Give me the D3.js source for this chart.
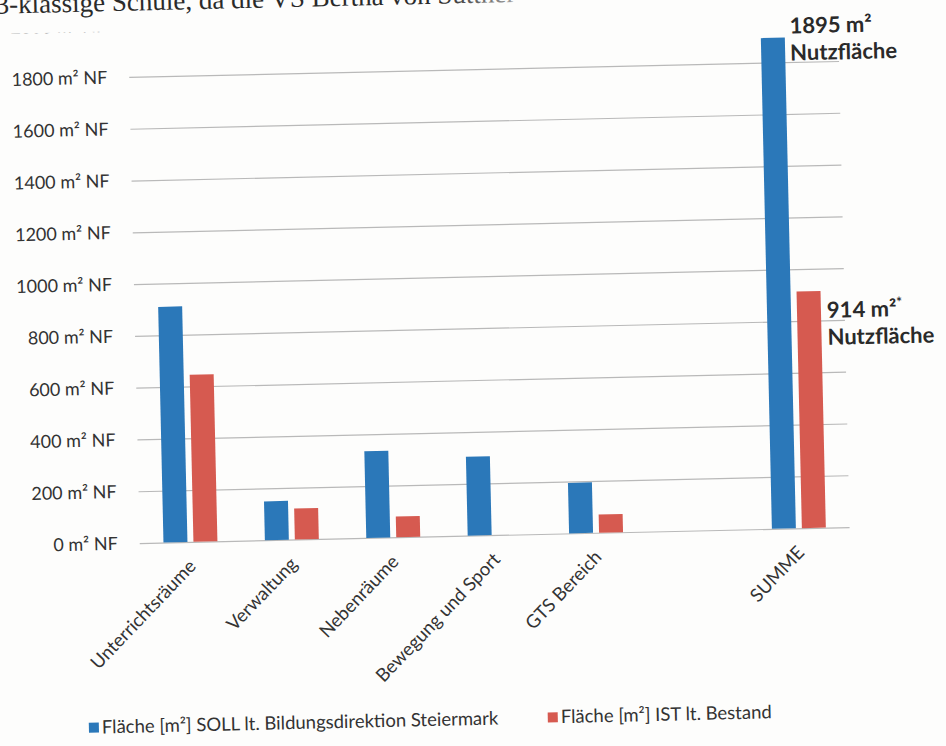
<!DOCTYPE html>
<html>
<head>
<meta charset="utf-8">
<script src="https://cdn.jsdelivr.net/npm/d3@7"></script>
<style>
  html, body { margin: 0; padding: 0; background: #fdfdfc; }
  svg { display: block; }
  text { font-family: Lato, "Open Sans", sans-serif; }
</style>
</head>
<body>
<svg id="chart" width="946" height="746"></svg>
<script>
// Floor area per room group: target (SOLL) vs existing (IST)
const categories = ["Unterrichtsräume", "Verwaltung", "Nebenräume", "Bewegung und Sport", "GTS Bereich", "", "SUMME"];
const sollValues = [910, 150, 335, 305, 195, null, 1895];
const istValues  = [645, 120, 80, 0, 70, null, 914];
const seriesNames = ["Fläche [m²] SOLL lt. Bildungsdirektion Steiermark", "Fläche [m²] IST lt. Bestand"];
const seriesKeys = ["soll", "ist"];
const yTickValues = [0, 200, 400, 600, 800, 1000, 1200, 1400, 1600, 1800, 2000];
const yTickSuffix = " m² NF";
const totalNotes = [["1895 m²", "Nutzfläche"], ["914 m²", "Nutzfläche"]];
const headerText = "3-klassige Schule, da die VS Bertha von Suttner";

const colors = { soll: "#2b78b9", ist: "#d65a50" };

const svg = d3.select("#chart");
const defs = svg.append("defs");

// slight counter-clockwise tilt of the whole sheet
const page = svg.append("g").attr("transform", "rotate(-1.29 473 373)");

// fading header line
const fade = defs.append("linearGradient").attr("id", "fade")
  .attr("gradientUnits", "userSpaceOnUse").attr("x1", 0).attr("x2", 560).attr("y1", 0).attr("y2", 0);
fade.append("stop").attr("offset", "0.8").attr("stop-color", "#2a2a2a");
fade.append("stop").attr("offset", "1").attr("stop-color", "#dadada");

page.append("text")
  .attr("x", 4).attr("y", 3)
  .style("font-family", "'Liberation Serif', 'DejaVu Serif', serif")
  .style("font-size", "27px")
  .attr("fill", "url(#fade)")
  .text(headerText);

// scales
const x0 = d3.scaleBand().domain(categories).range([136, 846])
  .paddingInner(0.468).paddingOuter(0.234);
const x1 = d3.scaleBand().domain(seriesKeys).range([0, x0.bandwidth()]).paddingInner(0.2);
const y = d3.scaleLinear().domain([0, 1800]).range([535.5, 69.3]);

// plot area cut off at the top
defs.append("clipPath").attr("id", "plotClip")
  .append("rect").attr("x", -50).attr("y", 23.5).attr("width", 1100).attr("height", 800);

const yAxis = d3.axisLeft(y)
  .tickValues(yTickValues)
  .tickSize(-(846 - 136))
  .tickPadding(22)
  .tickFormat(d => d + yTickSuffix);

const axisG = page.append("g")
  .attr("clip-path", "url(#plotClip)")
  .append("g")
  .attr("transform", "translate(136,0)")
  .call(yAxis);
axisG.select(".domain").remove();
axisG.selectAll(".tick line").attr("stroke", "#b9b9b9").attr("stroke-width", 1.2);
axisG.selectAll(".tick text")
  .attr("fill", "#333")
  .attr("opacity", d => d > 1800 ? 0.55 : 1)
  .style("font-size", "18px")
  .style("font-family", "Lato, sans-serif");

// bars
const rows = categories.map((c, i) => ({ cat: c, soll: sollValues[i], ist: istValues[i] }));
const groups = page.append("g").selectAll("g").data(rows).join("g")
  .attr("transform", d => `translate(${x0(d.cat)},0)`);
groups.selectAll("rect")
  .data(d => seriesKeys.filter(k => d[k] != null && d[k] > 0).map(k => ({ key: k, value: d[k] })))
  .join("rect")
  .attr("x", d => x1(d.key))
  .attr("width", x1.bandwidth())
  .attr("y", d => y(d.value))
  .attr("height", d => y(0) - y(d.value))
  .attr("fill", d => colors[d.key]);

// category labels
page.append("g").selectAll("text").data(categories).join("text")
  .attr("transform", d => `translate(${x0(d) + x0.bandwidth() / 2 + 6},561) rotate(-45)`)
  .attr("text-anchor", "end")
  .attr("fill", "#333")
  .style("font-size", "18.5px")
  .text(d => d);

// total annotations beside the SUMME bars
const sumCat = categories[categories.length - 1];
const last = sollValues.length - 1;
const notes = [
  { lines: totalNotes[0], x: x0(sumCat) + x1("soll") + x1.bandwidth() + 5, top: y(sollValues[last]) - 4, star: false },
  { lines: totalNotes[1], x: x0(sumCat) + x1("ist") + x1.bandwidth() + 6, top: y(istValues[last]) + 27, star: true }
];
notes.forEach(n => {
  const t = page.append("text")
    .attr("x", n.x).attr("y", n.top)
    .attr("fill", "#2a2a2a")
    .style("font-size", "22px")
    .style("font-weight", "bold");
  t.append("tspan").text(n.lines[0]);
  if (n.star) t.append("tspan").attr("dy", -9).style("font-size", "14px").text("*");
  page.append("text")
    .attr("x", n.x).attr("y", n.top + 27)
    .attr("fill", "#2a2a2a")
    .style("font-size", "22px")
    .style("font-weight", "bold")
    .text(n.lines[1]);
});

// legend
const legendPos = [81, 540];
const legend = page.append("g").selectAll("g").data(seriesKeys).join("g")
  .attr("transform", (d, i) => `translate(${legendPos[i]},725)`);
legend.append("rect")
  .attr("x", 0).attr("y", -11).attr("width", 10).attr("height", 10)
  .attr("fill", d => colors[d]);
legend.append("text")
  .attr("x", 13).attr("y", 0)
  .attr("fill", "#333")
  .style("font-size", "18.5px")
  .text((d, i) => seriesNames[i]);
</script>
</body>
</html>
